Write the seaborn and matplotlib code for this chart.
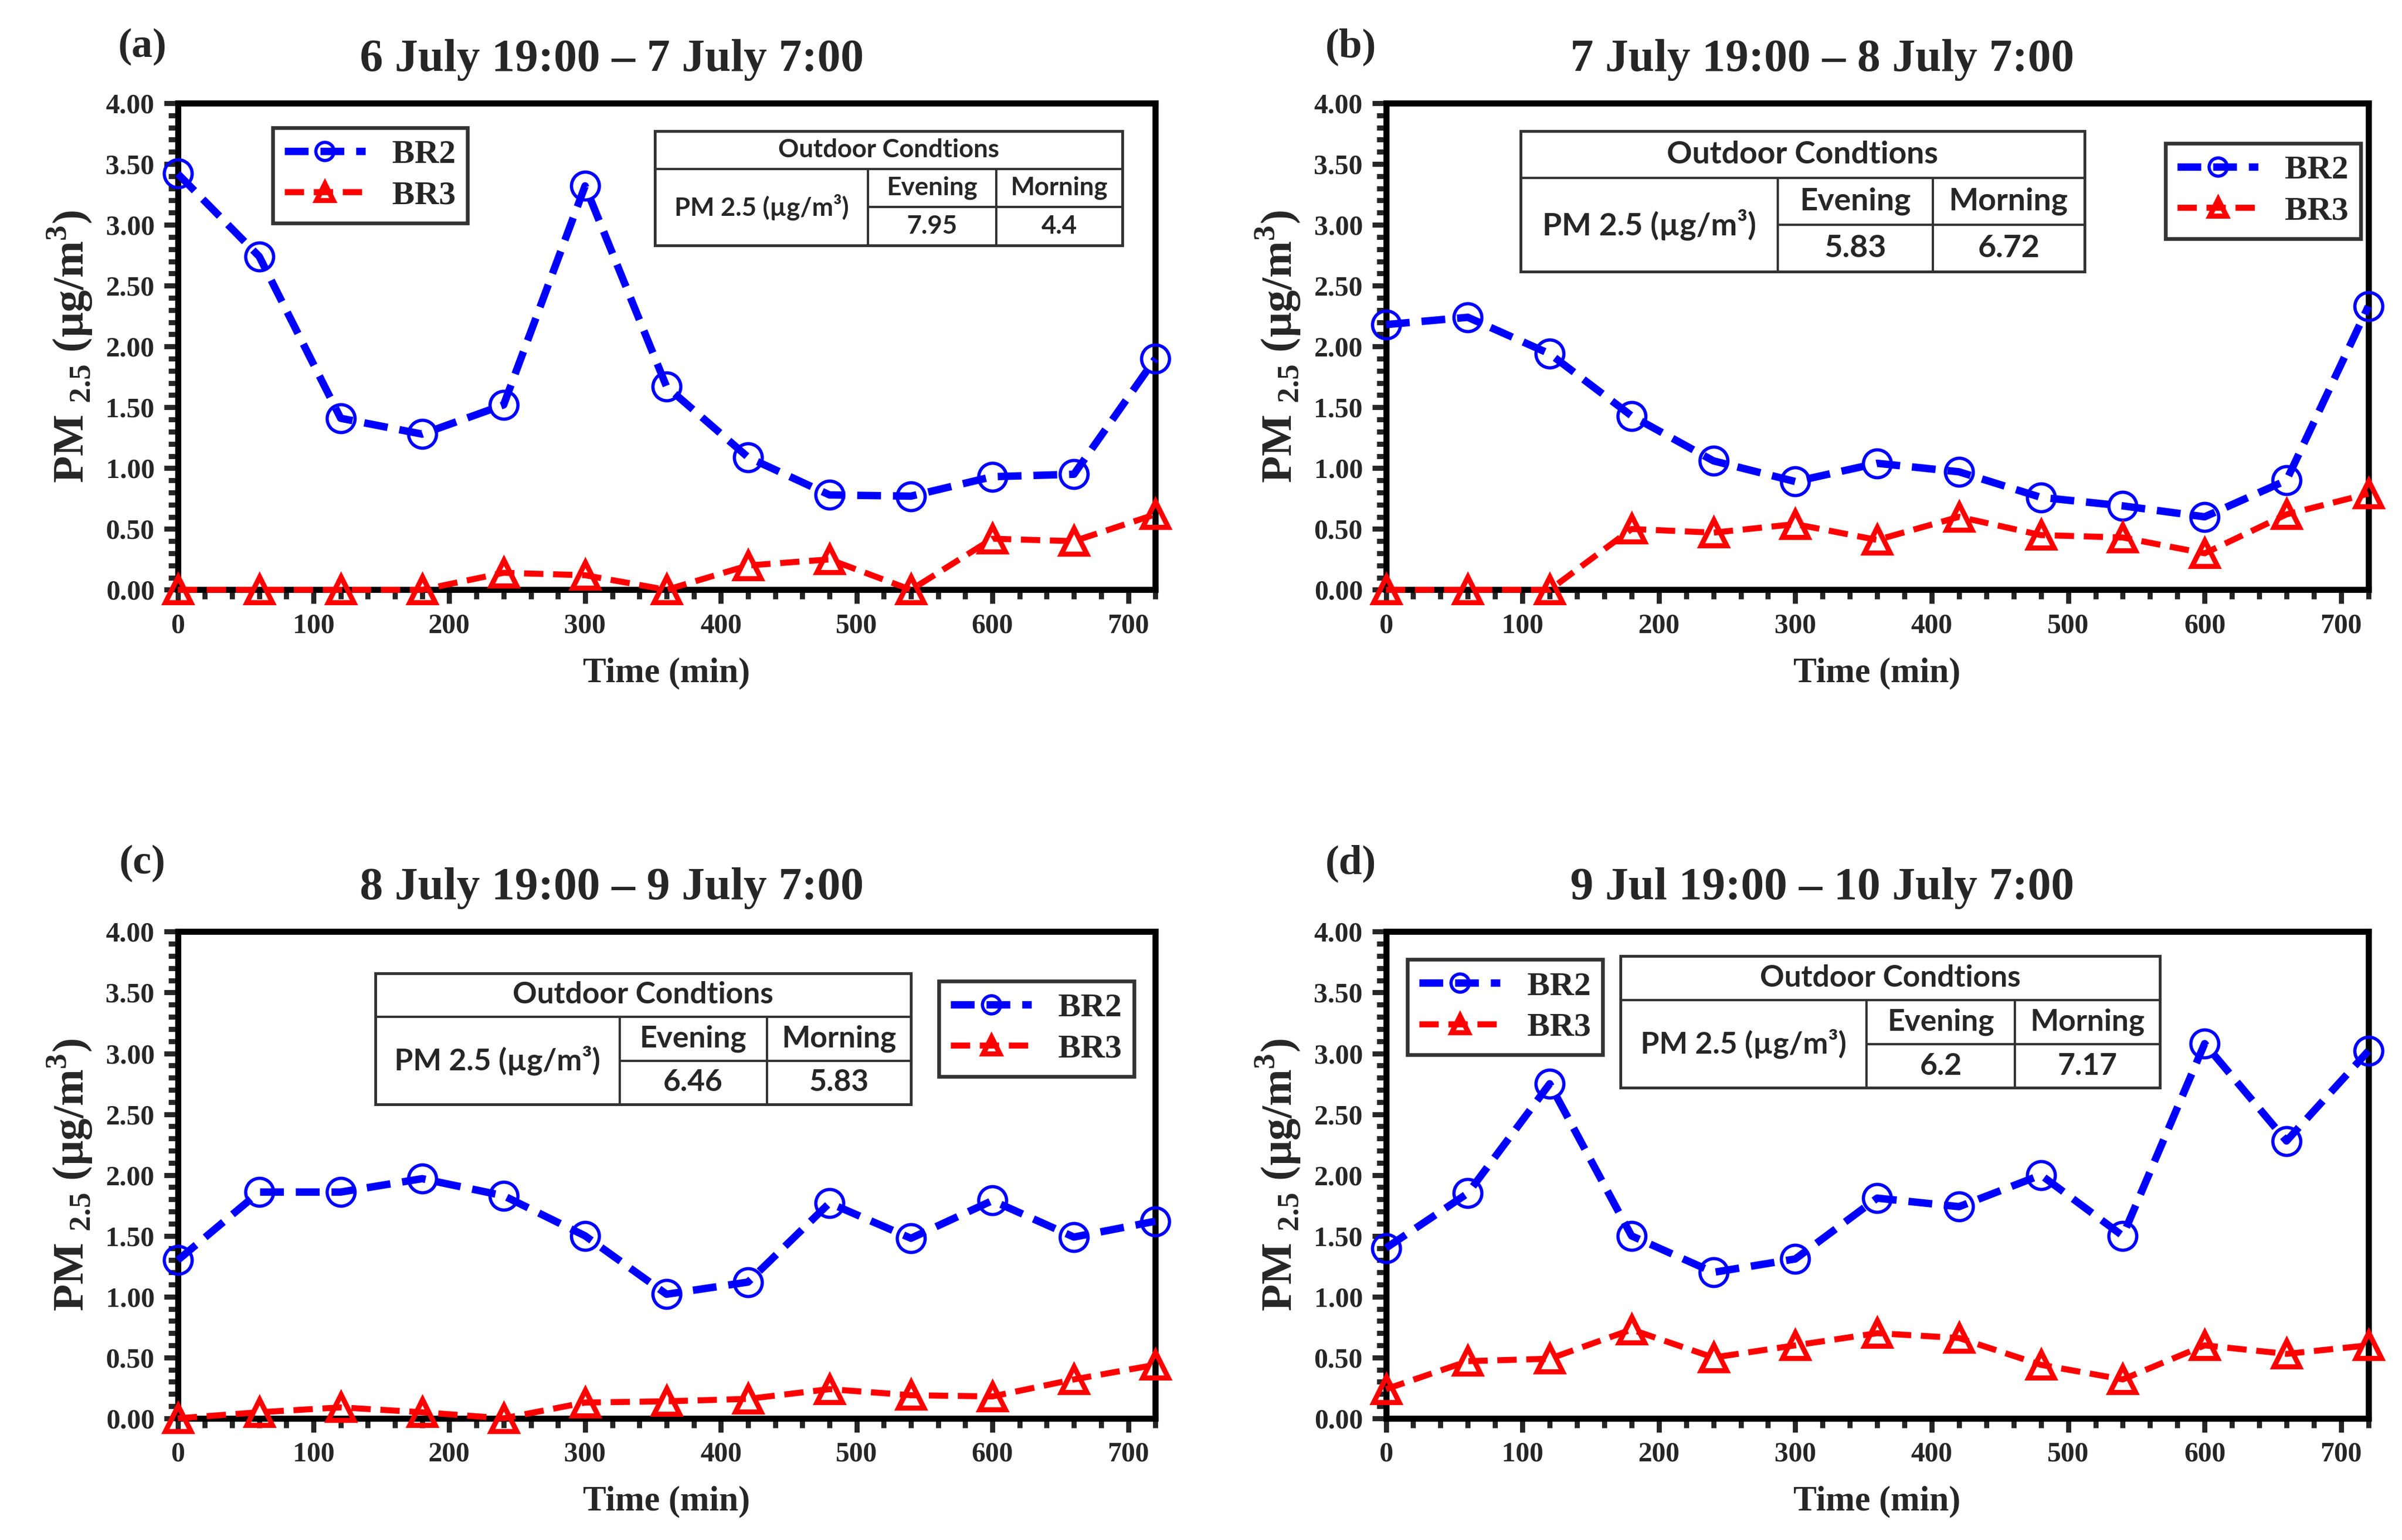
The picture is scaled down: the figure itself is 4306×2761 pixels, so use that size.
import numpy as np
import pandas as pd
import matplotlib
matplotlib.use('Agg')
import matplotlib.pyplot as plt
from matplotlib.ticker import MultipleLocator
import seaborn as sns

sns.set_style("white")
plt.rcParams['font.family'] = ['Liberation Serif', 'DejaVu Serif']
plt.rcParams['mathtext.fontset'] = 'custom'
plt.rcParams['mathtext.rm'] = 'Liberation Serif:bold'
plt.rcParams['mathtext.bf'] = 'Liberation Serif:bold'

time_min = [0, 60, 120, 180, 240, 300, 360, 420, 480, 540, 600, 660, 720]

br2_a = [3.42, 2.74, 1.41, 1.28, 1.52, 3.32, 1.67, 1.09, 0.78, 0.77, 0.93, 0.95, 1.90]
br3_a = [0.00, 0.00, 0.00, 0.00, 0.14, 0.12, 0.00, 0.20, 0.25, 0.00, 0.42, 0.40, 0.62]
br2_b = [2.18, 2.24, 1.94, 1.43, 1.06, 0.89, 1.04, 0.97, 0.76, 0.69, 0.60, 0.90, 2.33]
br3_b = [0.00, 0.00, 0.00, 0.50, 0.47, 0.54, 0.41, 0.60, 0.45, 0.43, 0.30, 0.62, 0.79]
br2_c = [1.30, 1.86, 1.86, 1.97, 1.83, 1.50, 1.02, 1.12, 1.77, 1.48, 1.79, 1.49, 1.62]
br3_c = [0.00, 0.05, 0.09, 0.05, 0.00, 0.13, 0.14, 0.16, 0.24, 0.19, 0.18, 0.32, 0.44]
br2_d = [1.40, 1.85, 2.75, 1.50, 1.20, 1.31, 1.81, 1.74, 2.00, 1.50, 3.08, 2.28, 3.02]
br3_d = [0.24, 0.47, 0.49, 0.73, 0.50, 0.60, 0.70, 0.66, 0.44, 0.32, 0.60, 0.53, 0.60]

labels = ['(a)', '(b)', '(c)', '(d)']
titles = ['6 July 19:00 \u2013 7 July 7:00', '7 July 19:00 \u2013 8 July 7:00',
          '8 July 19:00 \u2013 9 July 7:00', '9 Jul 19:00 \u2013 10 July 7:00']
evening = ['7.95', '5.83', '6.46', '6.2']
morning = ['4.4', '6.72', '5.83', '7.17']

# layout (axes fractions): table box, legend anchor
table_box = [(0.488, 0.708, 0.966, 0.943), (0.137, 0.654, 0.711, 0.943),
             (0.202, 0.645, 0.750, 0.915), (0.239, 0.679, 0.788, 0.950)]
table_fs = [11, 13.5, 13, 13]
legend_pos = [('upper left', (0.097, 0.950)), ('upper right', (0.992, 0.918)),
              ('upper right', (0.978, 0.899)), ('upper left', (0.022, 0.943))]
axes_rect = [(0.074, 0.617, 0.407, 0.316), (0.577, 0.617, 0.409, 0.316),
             (0.074, 0.079, 0.407, 0.316), (0.577, 0.079, 0.409, 0.316)]
label_y = [1.115, 1.115, 1.14, 1.14]

series = [(br2_a, br3_a), (br2_b, br3_b), (br2_c, br3_c), (br2_d, br3_d)]

fig = plt.figure(figsize=(4306 / 300, 2761 / 300), dpi=300)


def draw_table(ax, box, ev, mo, fs):
    x0, y0, x1, y1 = box
    w = x1 - x0
    h = y1 - y0
    xa = x0 + w * 0.456
    xb = x0 + w * 0.731
    ym1 = y1 - h / 3
    ym2 = y1 - 2 * h / 3
    kw = dict(transform=ax.transAxes, color='#333333', lw=1.0, zorder=5)
    ax.add_patch(plt.Rectangle((x0, y0), w, h, transform=ax.transAxes,
                               facecolor='white', edgecolor='#333333', lw=1.2, zorder=4))
    ax.plot([x0, x1], [ym1, ym1], **kw)
    ax.plot([xa, x1], [ym2, ym2], **kw)
    ax.plot([xa, xa], [y0, ym1], **kw)
    ax.plot([xb, xb], [y0, ym1], **kw)
    tk = dict(transform=ax.transAxes, ha='center', va='center', fontsize=fs,
              family=['Lato', 'DejaVu Sans'], fontweight='bold', zorder=6)
    ax.text((x0 + x1) / 2, (y1 + ym1) / 2, 'Outdoor Condtions', **tk)
    ax.text((x0 + xa) / 2, (y0 + ym1) / 2, 'PM 2.5 (\u00b5g/m\u00b3)', **tk)
    ax.text((xa + xb) / 2, (ym1 + ym2) / 2, 'Evening', **tk)
    ax.text((xb + x1) / 2, (ym1 + ym2) / 2, 'Morning', **tk)
    ax.text((xa + xb) / 2, (ym2 + y0) / 2, ev, **tk)
    ax.text((xb + x1) / 2, (ym2 + y0) / 2, mo, **tk)


ylab = 'PM $_{\\mathregular{2.5}}$ (\u00b5g/m$^{\\mathregular{3}}$)'

for i in range(4):
    ax = fig.add_axes(axes_rect[i])
    br2, br3 = series[i]
    df = pd.DataFrame({'Time': time_min, 'BR2': br2, 'BR3': br3})
    sns.lineplot(data=df, x='Time', y='BR2', ax=ax, color='#0000ff', lw=3.2,
                 linestyle=(0, (3.2, 1.6)), marker='o', markersize=12,
                 markerfacecolor='none', markeredgecolor='#0000ff',
                 markeredgewidth=1.4, label='BR2', clip_on=False, zorder=3)
    sns.lineplot(data=df, x='Time', y='BR3', ax=ax, color='#ff0000', lw=2.6,
                 linestyle=(0, (3.2, 1.6)), marker='^', markersize=11,
                 markerfacecolor='none', markeredgecolor='#ff0000',
                 markeredgewidth=2.2, label='BR3', clip_on=False, zorder=3)
    ax.set_xlim(0, 720)
    ax.set_ylim(0, 4)
    ax.xaxis.set_major_locator(MultipleLocator(100))
    ax.xaxis.set_minor_locator(MultipleLocator(20))
    ax.yaxis.set_major_locator(MultipleLocator(0.5))
    ax.yaxis.set_minor_locator(MultipleLocator(0.1))
    ax.yaxis.set_major_formatter(plt.FormatStrFormatter('%.2f'))
    ax.tick_params(which='major', direction='out', length=6, width=2.2,
                   labelsize=12, pad=4, bottom=True, left=True)
    ax.tick_params(which='minor', direction='out', length=4, width=2.2,
                   bottom=True, left=True)
    for lab in ax.get_xticklabels() + ax.get_yticklabels():
        lab.set_fontweight('bold')
    for sp in ax.spines.values():
        sp.set_color('black')
        sp.set_linewidth(2.6)
    ax.set_xlabel('Time (min)', fontsize=15, fontweight='bold', labelpad=8)
    ax.set_ylabel(ylab, fontsize=19, fontweight='bold', labelpad=5)
    ax.set_title(titles[i], fontsize=20, fontweight='bold', pad=14, x=0.444)
    ax.text(-0.036, label_y[i], labels[i], transform=ax.transAxes, fontsize=18,
            fontweight='bold', ha='center', va='center')
    loc, anchor = legend_pos[i]
    leg = ax.legend(loc=loc, bbox_to_anchor=anchor, borderaxespad=0, frameon=True,
                    fancybox=False, edgecolor='black', fontsize=14.5, handlelength=2.4,
                    borderpad=0.35, labelspacing=0.3, handletextpad=0.8,
                    markerscale=0.65)
    leg.get_frame().set_linewidth(1.6)
    leg.set_zorder(7)
    for t in leg.get_texts():
        t.set_fontweight('bold')
    draw_table(ax, table_box[i], evening[i], morning[i], table_fs[i])

fig.savefig('out.png', dpi=300)
